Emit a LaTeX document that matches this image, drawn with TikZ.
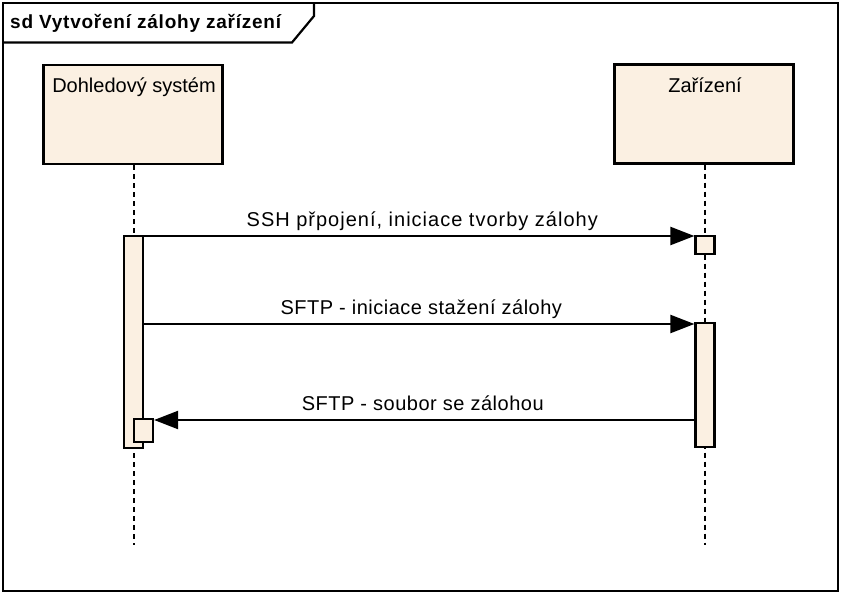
\documentclass[tikz,border=0pt]{standalone}
\usepackage{fontspec}
\usetikzlibrary{arrows.meta,calc}
\newfontfamily\boxfont{Liberation Sans}
\newfontfamily\msgfont{Liberation Sans}[LetterSpace=5]
\newfontfamily\msgfontnarrow{Liberation Sans}[LetterSpace=2.5]
\newfontfamily\titlefont{Liberation Sans}[LetterSpace=4]
\definecolor{lifefill}{RGB}{251,240,226}
\tikzset{
  x=1pt, y=-1pt,
  frameline/.style={draw=black, line width=2.2pt},
  lifebox/.style={draw=black, fill=lifefill, line width=2.2pt, rectangle,
    minimum width=179pt, minimum height=99pt, inner sep=0pt},
  lifetext/.style={anchor=base, inner sep=0pt, font=\boxfont\fontsize{20}{23}\selectfont},
  lifeline/.style={draw=black, line width=2pt, dash pattern=on 5pt off 4pt},
  actbar/.style={draw=black, fill=lifefill, line width=2.2pt, rectangle,
    minimum width=19pt, inner sep=0pt},
  msg/.style={draw=black, line width=2.2pt, -{Triangle[length=24pt,width=18pt]}},
  msgtext/.style={anchor=base, inner sep=0pt, font=\msgfont\fontsize{20}{23}\selectfont},
  msgtextnarrow/.style={msgtext, font=\msgfontnarrow\fontsize{20}{23}\selectfont},
}
\begin{document}
\begin{tikzpicture}
\useasboundingbox (0,0) rectangle (841,594);

% diagram frame and its name tab
\draw[frameline] (3,3) rectangle (838,591);
\draw[frameline] (3,42.5) -- (292,42.5) -- (314,16) -- (314,3);
\node[anchor=base west, inner sep=0pt, font=\titlefont\bfseries\fontsize{19}{22}\selectfont]
  (title) at (10,28.3) {sd Vytvoření zálohy zařízení};

% participants
\node[lifebox] (mon) at (133,114.5) {};
\node[lifetext] (montext) at (134,92.7) {Dohledový systém};
\node[lifebox] (dev) at (704,114) {};
\node[lifetext] (devtext) at (705,92.5) {Zařízení};

% lifelines
\coordinate (monend) at (134,545);
\coordinate (devend) at (705,545);
\draw[lifeline] (mon.south -| monend) -- (monend);
\draw[lifeline] (dev.south -| devend) -- (devend);

% activation bars
\node[actbar, minimum height=212pt] (monbar) at (133.5,342) {};
\node[actbar, minimum height=18pt] (devsmall) at (705,245) {};
\node[actbar, minimum height=124pt] (devbar) at (705,385) {};
\node[actbar, minimum height=23pt] (monsmall) at (143.5,430.5) {};

% messages
\draw[msg] (monbar.east |- 0,236) -- (devsmall.west |- 0,236)
  node[msgtext, midway, yshift=9.3pt, xshift=3pt] (m1) {SSH přpojení, iniciace tvorby zálohy};
\draw[msg] (monbar.east |- 0,324) -- (devbar.west |- 0,324)
  node[msgtextnarrow, midway, yshift=9.5pt, xshift=2pt] (m2) {SFTP - iniciace stažení zálohy};
\draw[msg] (devbar.west |- 0,420) -- (monsmall.east |- 0,420)
  node[msgtextnarrow, midway, yshift=10pt, xshift=-1.5pt] (m3) {SFTP - soubor se zálohou};
\end{tikzpicture}
\end{document}
